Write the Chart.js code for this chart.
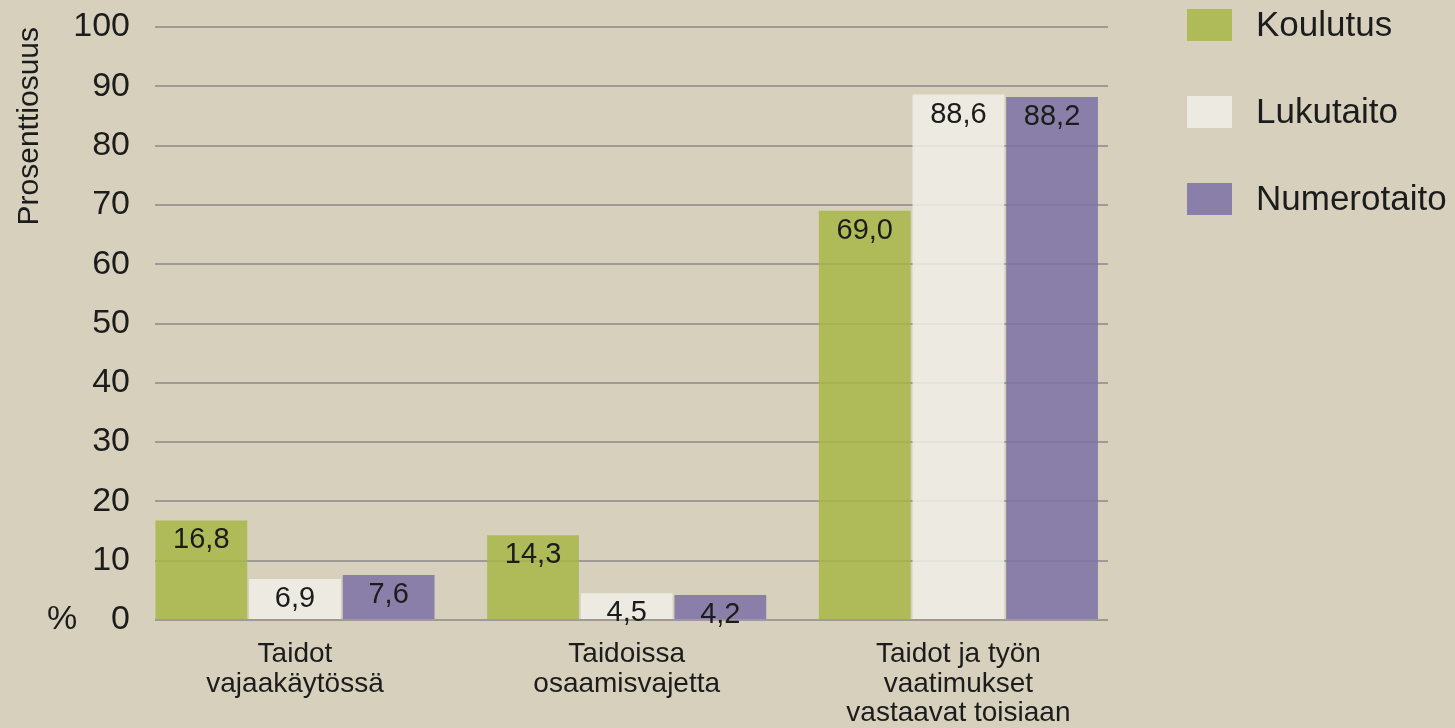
<!DOCTYPE html>
<html>
<head>
<meta charset="utf-8">
<script src="https://cdn.jsdelivr.net/npm/chart.js@4.4.1/dist/chart.umd.min.js"></script>
<style>
  html, body { margin: 0; padding: 0; background: #d6d0bd; }
  #wrap { width: 1455px; height: 728px; position: relative; }
</style>
</head>
<body>
<div id="wrap"><canvas id="c"></canvas></div>
<script>
// ---- data ----
const categories = [
  ['Taidot', 'vajaakäytössä'],
  ['Taidoissa', 'osaamisvajetta'],
  ['Taidot ja työn', 'vaatimukset', 'vastaavat toisiaan']
];
const seriesNames = ['Koulutus', 'Lukutaito', 'Numerotaito'];
const koulutus    = [16.8, 14.3, 69.0];
const lukutaito   = [6.9, 4.5, 88.6];
const numerotaito = [7.6, 4.2, 88.2];
const yTicks = [0, 10, 20, 30, 40, 50, 60, 70, 80, 90, 100];
const yTitle = 'Prosenttiosuus';
const yUnit = '%';

// ---- styling ----
const FONT = '"Liberation Sans", Arial, Helvetica, sans-serif';
const TEXT = '#1c1c1c';
const colors = ['rgba(168,182,71,0.85)', 'rgba(240,239,232,0.85)', 'rgba(123,113,166,0.85)'];

const seriesValues = [koulutus, lukutaito, numerotaito];
const datasets = seriesNames.map((name, s) => ({
  label: name,
  data: seriesValues[s].map((v, i) => ({ x: i, y: v })),
  backgroundColor: colors[s],
  borderWidth: 0,
  categoryPercentage: 0.847,
  barPercentage: 0.98
}));

const fmt = v => v.toFixed(1).replace('.', ',');

const valueLabels = {
  id: 'valueLabels',
  afterDatasetsDraw(chart) {
    const ctx = chart.ctx;
    ctx.save();
    ctx.font = '29px ' + FONT;
    ctx.fillStyle = TEXT;
    ctx.textAlign = 'center';
    ctx.textBaseline = 'alphabetic';
    chart.data.datasets.forEach((ds, di) => {
      const meta = chart.getDatasetMeta(di);
      meta.data.forEach((el, i) => {
        ctx.fillText(fmt(ds.data[i].y), el.x, el.y + 28);
      });
    });
    ctx.restore();
  }
};

const extras = {
  id: 'extras',
  afterDraw(chart) {
    const ctx = chart.ctx;
    const y0 = chart.scales.y.getPixelForValue(0);
    ctx.save();
    ctx.font = '34px ' + FONT;
    ctx.fillStyle = TEXT;
    ctx.textAlign = 'center';
    ctx.textBaseline = 'middle';
    ctx.fillText(yUnit, 62, y0);
    // legend
    const boxX = 1187, boxW = 45, boxH = 32, textX = 1256;
    const rowY = [25, 112, 199];
    ctx.font = '35px ' + FONT;
    ctx.textAlign = 'left';
    chart.data.datasets.forEach((ds, i) => {
      ctx.fillStyle = ds.backgroundColor;
      ctx.fillRect(boxX, rowY[i] - boxH / 2, boxW, boxH);
      ctx.fillStyle = TEXT;
      ctx.fillText(ds.label, textX, rowY[i] + 1);
    });
    ctx.restore();
  }
};

new Chart(document.getElementById('c'), {
  type: 'bar',
  data: { datasets },
  plugins: [valueLabels, extras],
  options: {
    responsive: true,
    maintainAspectRatio: false,
    animation: false,
    layout: { padding: { left: 0, top: 27, right: 347, bottom: 0 } },
    plugins: { legend: { display: false }, tooltip: { enabled: false } },
    scales: {
      x: {
        type: 'linear',
        offset: false,
        min: -0.422,
        max: 2.451,
        afterBuildTicks: scale => { scale.ticks = categories.map((_, i) => ({ value: i })); },
        afterFit: scale => { scale.height = 108; scale.paddingLeft = 0; scale.paddingRight = 0; },
        grid: { display: false, drawTicks: false, offset: false },
        border: { display: false },
        ticks: {
          autoSkip: false,
          maxRotation: 0,
          padding: 20,
          color: TEXT,
          font: { family: FONT, size: 28, lineHeight: 1.05 },
          callback: v => categories[v]
        }
      },
      y: {
        min: 0,
        max: 100,
        afterBuildTicks: scale => { scale.ticks = yTicks.map(v => ({ value: v })); },
        afterFit: scale => { scale.width = 155; scale.paddingTop = 0; scale.paddingBottom = 0; },
        grid: { color: 'rgba(120,120,125,0.6)', lineWidth: 2, drawTicks: false },
        border: { display: false },
        ticks: {
          padding: 25,
          color: TEXT,
          font: { family: FONT, size: 34 }
        },
        title: {
          display: true,
          text: yTitle,
          align: 'end',
          color: TEXT,
          font: { family: FONT, size: 30 },
          padding: { top: 12, bottom: 0 }
        }
      }
    }
  }
});
</script>
</body>
</html>
